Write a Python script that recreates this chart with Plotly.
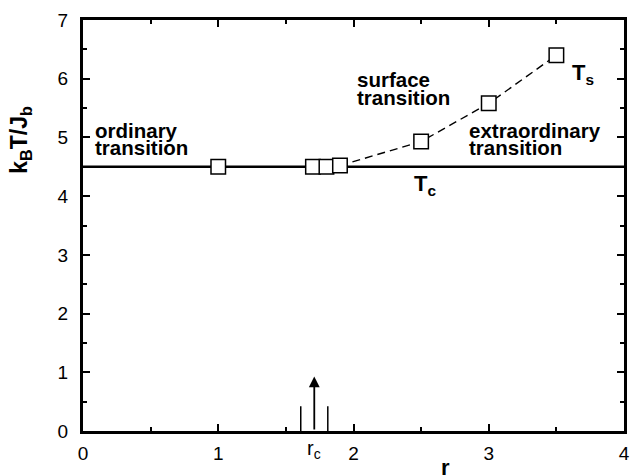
import plotly.graph_objects as go

# Data
r_vals = [1.0, 1.7, 1.8, 1.9, 2.5, 3.0, 3.5]
T_vals = [4.5, 4.5, 4.5, 4.52, 4.93, 5.58, 6.40]
ts_r = [1.9, 2.5, 3.0, 3.5]
ts_T = [4.52, 4.93, 5.58, 6.40]
tc_r = [0, 4]
tc_T = [4.5, 4.5]
rc = 1.71
rc_err = 0.1
rc_arrow_top = 0.93
rc_err_top = 0.42
x_ticks = [0, 1, 2, 3, 4]
y_ticks = [0, 1, 2, 3, 4, 5, 6, 7]

FONT = "Liberation Sans, Arial, sans-serif"

fig = go.Figure()
# Tc solid line
fig.add_trace(go.Scatter(x=tc_r, y=tc_T, mode="lines",
                         line=dict(color="black", width=2.5), hoverinfo="skip"))
# Ts dashed line
fig.add_trace(go.Scatter(x=ts_r, y=ts_T, mode="lines",
                         line=dict(color="black", width=1.4, dash="8px,5px"), hoverinfo="skip"))
# rc error lines
fig.add_trace(go.Scatter(x=[rc - rc_err, rc - rc_err, None, rc + rc_err, rc + rc_err],
                         y=[0, rc_err_top, None, 0, rc_err_top], mode="lines",
                         line=dict(color="black", width=1.5), hoverinfo="skip"))
# markers
fig.add_trace(go.Scatter(x=r_vals, y=T_vals, mode="markers",
                         marker=dict(symbol="square", size=14.5, color="white",
                                     line=dict(color="black", width=1.5))))

# arrow for rc
fig.add_annotation(x=rc, y=rc_arrow_top, ax=rc, ay=0, xref="x", yref="y",
                   axref="x", ayref="y", showarrow=True, arrowhead=2,
                   arrowsize=1.2, arrowwidth=1.8, arrowcolor="black", text="")

def py(p):
    return (431 - p) / 59.7

def px(p):
    return (p - 83) / 136.75

def txt(x, y, t, size=20.5, xanchor="left", xref="x", yref="y", bold=True):
    fig.add_annotation(x=x, y=y, xref=xref, yref=yref, text=(f"<b>{t}</b>" if bold else t),
                       showarrow=False, xanchor=xanchor, yanchor="middle",
                       font=dict(family=FONT, size=size, color="black"))

txt(px(93), py(125), "ordinary")
txt(px(93), py(143), "transition")
txt(px(358), py(74), "surface")
txt(px(358), py(92), "transition")
txt(px(471), py(125), "extraordinary")
txt(px(471), py(143), "transition")
txt(px(416), py(181), "T<sub>c</sub>", size=22)
txt(px(575), py(68), "T<sub>s</sub>", size=22)
txt(rc, -0.044, "r<sub>c</sub>", size=20, xanchor="center", yref="paper", bold=False)

# axis titles
fig.add_annotation(x=px(450), y=-0.09, xref="x", yref="paper", text="<b>r</b>",
                   showarrow=False, xanchor="center", yanchor="middle",
                   font=dict(family=FONT, size=22, color="black"))
fig.add_annotation(x=-0.115, y=py(135), xref="paper", yref="y",
                   text="<b>k<sub>B</sub>T/J<sub>b</sub></b>", textangle=-90,
                   showarrow=False, xanchor="center", yanchor="middle",
                   font=dict(family=FONT, size=23, color="black"))

axis_common = dict(showline=True, linecolor="black", linewidth=3, mirror="ticks",
                   ticks="inside", ticklen=7, tickwidth=1.5, tickcolor="black",
                   showgrid=False, zeroline=False,
                   tickfont=dict(family=FONT, size=19, color="black"))
fig.update_xaxes(range=[0, 4], tickvals=x_ticks, ticktext=[str(v) for v in x_ticks],
                 minor=dict(ticks="inside", ticklen=4, dtick=0.5, tickcolor="black", tickwidth=1.5),
                 ticklabelstandoff=3, **axis_common)
fig.update_yaxes(range=[0, 7], tickvals=y_ticks, ticktext=[str(v) for v in y_ticks],
                 minor=dict(ticks="inside", ticklen=4, dtick=0.5, tickcolor="black", tickwidth=1.5),
                 ticklabelstandoff=8, **axis_common)

fig.update_layout(width=640, height=475, margin=dict(l=83, r=10, t=13, b=44),
                  paper_bgcolor="white", plot_bgcolor="white", showlegend=False)

fig.write_html("out.html")
